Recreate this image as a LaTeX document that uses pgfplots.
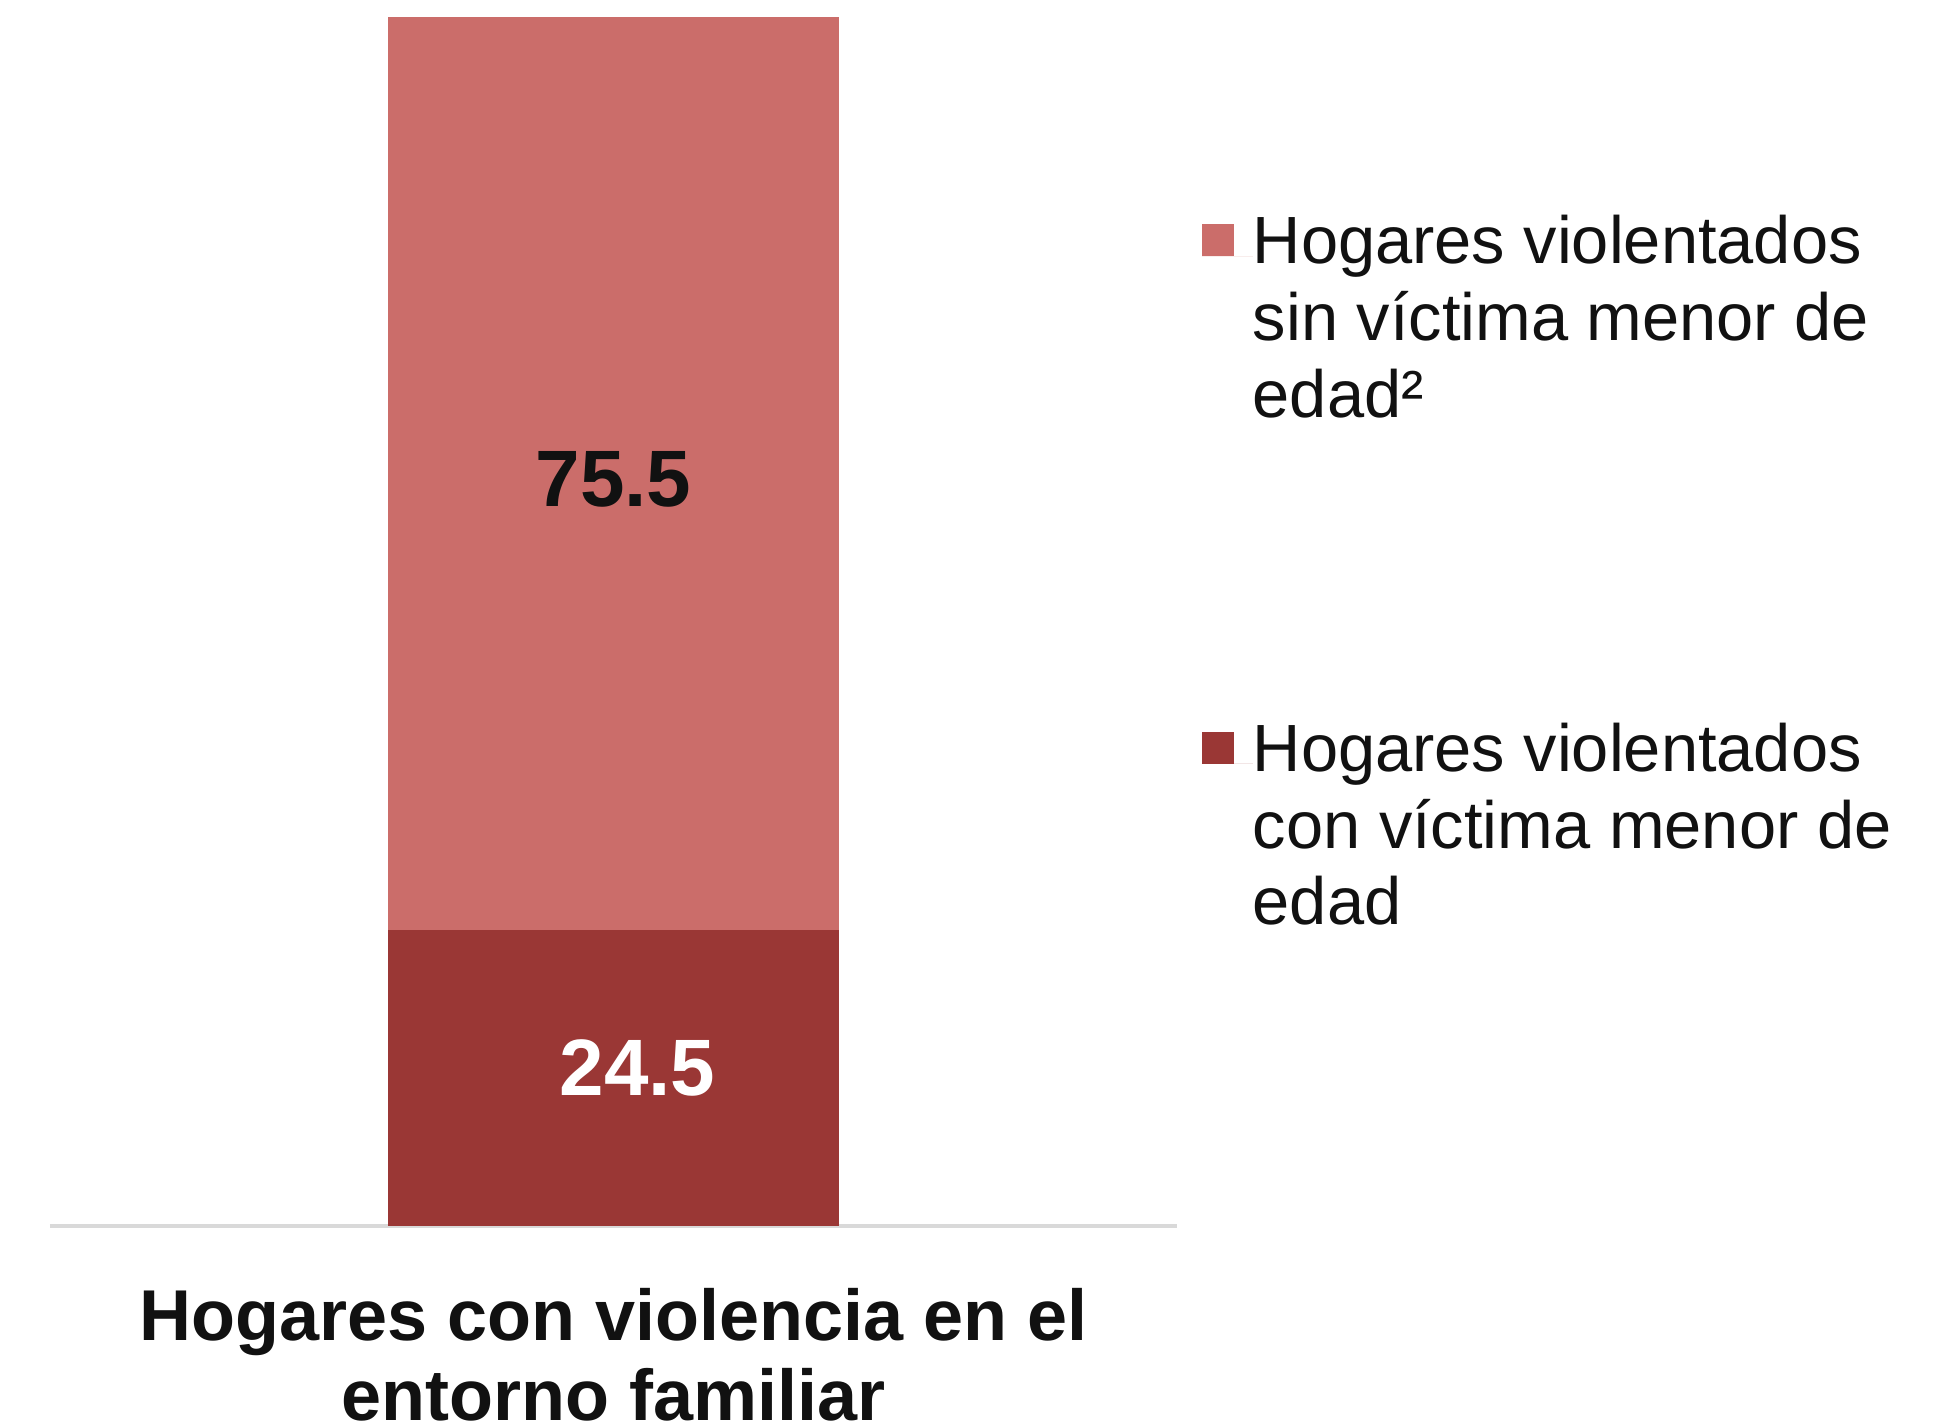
\documentclass[border=0pt]{standalone}
\usepackage{fontspec}
\setmainfont{Liberation Sans}
\usepackage{pgfplots}
\pgfplotsset{compat=1.18}
\definecolor{light}{HTML}{CB6D6A}
\definecolor{dark}{HTML}{9A3735}
\definecolor{axgray}{HTML}{D9D9D9}
\definecolor{txt}{HTML}{111111}
\begin{document}
\begin{tikzpicture}
\begin{axis}[
  scale only axis, width=281.75pt, height=302.25pt,
  xmin=-1, xmax=1, ymin=0, ymax=100,
  ybar stacked, bar width=0.8,
  axis y line=none, axis x line*=bottom,
  x axis line style={draw=axgray, line width=0.8pt, -},
  xtick={0}, xticklabels={Hogares con violencia en el\\entorno familiar},
  major tick length=0pt,
  xticklabel style={align=center, text=txt, font=\bfseries\fontsize{18}{20}\selectfont, anchor=north, inner sep=0pt, yshift=-15.5pt},
  point meta=explicit,
  nodes near coords={\pgfmathprintnumber[fixed,precision=1,fixed zerofill,assume math mode=true]{\pgfplotspointmeta}},
  every node near coord/.append style={font=\bfseries\fontsize{20}{23}\selectfont, anchor=center, inner sep=0pt},
  reverse legend,
  legend cell align=left,
  legend image code/.code={\fill[#1] (0pt,15.8pt) rectangle (8pt,23.8pt); \path (0pt,15.8pt) -- (12.75pt,15.8pt);},
  legend style={draw=none, fill=none, inner sep=0pt, text=txt,
    at={(axis description cs:1.0213,0.8366)}, anchor=north west,
    font=\fontsize{16.7}{19.2}\selectfont, row sep=74.9pt,
    nodes={align=left, inner sep=0pt}},
]
\addplot[fill=dark, draw=none, every node near coord/.append style={text=white, xshift=6pt, yshift=2.5pt}] coordinates {(0,24.5) [24.5]};
\addlegendentry{Hogares violentados\\con víctima menor de\\edad}
\addplot[fill=light, draw=none, every node near coord/.append style={text=txt, yshift=-1.4pt}] coordinates {(0,75.5) [75.5]};
\addlegendentry{Hogares violentados\\sin víctima menor de\\edad²}
\end{axis}
\pgfresetboundingbox
\path[use as bounding box] ([shift={(-12.5pt,-48.75pt)}]current axis.south west) rectangle ([shift={(191.25pt,4.25pt)}]current axis.north east);
\end{tikzpicture}
\end{document}
